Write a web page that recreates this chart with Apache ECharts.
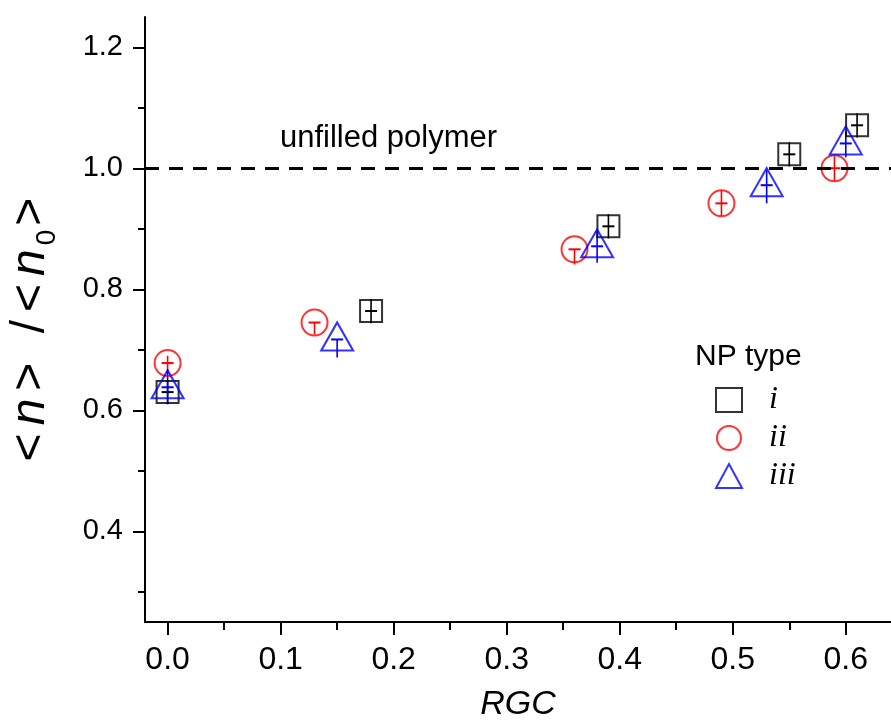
<!DOCTYPE html>
<html>
<head>
<meta charset="utf-8">
<script src="https://cdn.jsdelivr.net/npm/echarts@6/dist/echarts.min.js"></script>
<style>
  html, body { margin: 0; padding: 0; background: #fff; }
  #chart { width: 891px; height: 720px; }
</style>
</head>
<body>
<div id="chart"></div>
<script>
// NP type i (squares)
const rgcI = [0.00, 0.18, 0.39, 0.55, 0.61]
const nI = [0.630, 0.764, 0.904, 1.023, 1.071]
const upI = [0.02, 0.02, 0.02, 0.02, 0.02]
const downI = [0.02, 0.02, 0.02, 0.02, 0.02]

// NP type ii (circles)
const rgcII = [0.00, 0.13, 0.36, 0.49, 0.59]
const nII = [0.678, 0.745, 0.866, 0.942, 1.000]
const upII = [0.012, 0.0, 0.0, 0.022, 0.02]
const downII = [0.018, 0.02, 0.025, 0.021, 0.021]

// NP type iii (triangles)
const rgcIII = [0.00, 0.15, 0.38, 0.53, 0.60]
const nIII = [0.638, 0.717, 0.871, 0.972, 1.041]
const upIII = [0.028, 0.0, 0.025, 0.025, 0.02]
const downIII = [0.028, 0.03, 0.027, 0.03, 0.023]

const refLevel = 1.0

const xTicks = [0.0, 0.1, 0.2, 0.3, 0.4, 0.5, 0.6]
const xMinorTicks = [0.05, 0.15, 0.25, 0.35, 0.45, 0.55]
const yTicks = [0.4, 0.6, 0.8, 1.0, 1.2]
const yMinorTicks = [0.3, 0.5, 0.7, 0.9, 1.1]

const chart = echarts.init(document.getElementById('chart'), null, { renderer: 'canvas' })

const toPoints = (xs, ys) => xs.map((x, i) => [x, ys[i]])
const toBars = (xs, ys, up, down) => xs.map((x, i) => [x, ys[i], up[i], down[i]])

const errorBars = (name, color, bars) => ({
  name: name + '-err',
  type: 'custom',
  z: 3,
  silent: true,
  data: bars,
  renderItem: (params, api) => {
    const x = api.value(0)
    const y = api.value(1)
    const top = api.coord([x, y + api.value(2)])
    const bottom = api.coord([x, y - api.value(3)])
    const mid = api.coord([x, y])
    const style = { stroke: color, lineWidth: 1.6 }
    return {
      type: 'group',
      children: [
        { type: 'line', shape: { x1: top[0], y1: top[1], x2: bottom[0], y2: bottom[1] }, style },
        { type: 'line', shape: { x1: mid[0] - 6, y1: mid[1], x2: mid[0] + 6, y2: mid[1] }, style: { stroke: color, lineWidth: 2 } }
      ]
    }
  }
})

const axisLine = { show: true, onZero: false, lineStyle: { color: '#000', width: 2 } }
const tickStyle = { color: '#000', width: 2 }

// spread the y title a little, like the original
const sp = [0, 4, 0, 4]

const option = {
  animation: false,
  backgroundColor: '#fff',
  grid: { left: 145, right: 0, top: 17, bottom: 98, containLabel: false, outerBoundsMode: 'none' },
  title: {
    text: 'NP type',
    left: 690,
    top: 337,
    textStyle: { fontFamily: 'Liberation Sans', fontWeight: 'normal', fontSize: 30, color: '#000' }
  },
  legend: {
    orient: 'vertical',
    left: 710,
    top: 379,
    itemGap: 6,
    itemWidth: 26,
    itemHeight: 24,
    data: [
      { name: 'i', icon: 'rect', itemStyle: { color: 'transparent', borderColor: '#000', borderWidth: 2 } },
      { name: 'ii', icon: 'circle', itemStyle: { color: 'transparent', borderColor: '#ff0000', borderWidth: 2 } },
      { name: 'iii', icon: 'triangle', itemStyle: { color: 'transparent', borderColor: '#0000ff', borderWidth: 2 } }
    ],
    textStyle: {
      fontFamily: 'Liberation Serif',
      fontStyle: 'italic',
      fontSize: 32,
      color: '#000',
      padding: [0, 0, 0, 22]
    }
  },
  xAxis: [
    {
      type: 'value',
      min: -0.02,
      max: 0.64,
      name: 'RGC',
      nameLocation: 'middle',
      nameGap: 66,
      nameTextStyle: { fontFamily: 'Liberation Sans', fontStyle: 'italic', fontSize: 34, color: '#000' },
      axisLine,
      splitLine: { show: false },
      axisTick: { show: true, inside: false, length: 13, customValues: xTicks, lineStyle: tickStyle },
      axisLabel: {
        customValues: xTicks,
        margin: 22,
        fontFamily: 'Liberation Sans',
        fontSize: 32,
        color: '#000',
        formatter: v => v.toFixed(1)
      }
    },
    {
      type: 'value',
      min: -0.02,
      max: 0.64,
      position: 'bottom',
      axisLine: { show: false, onZero: false },
      splitLine: { show: false },
      axisLabel: { show: false },
      axisTick: { show: true, inside: false, length: 8, customValues: xMinorTicks, lineStyle: tickStyle }
    }
  ],
  yAxis: [
    {
      type: 'value',
      min: 0.25,
      max: 1.25,
      name: '{a|<}{i|n}{a|>}{a| }{a|/}{a|<}{i|n}{s|0}{e|>}',
      nameLocation: 'middle',
      nameRotate: 90,
      nameGap: 84,
      nameTextStyle: {
        rich: {
          a: { fontFamily: 'Liberation Sans', fontSize: 48, color: '#000', padding: sp },
          e: { fontFamily: 'Liberation Sans', fontSize: 48, color: '#000', padding: [0, 24, 0, 4] },
          i: { fontFamily: 'Liberation Sans', fontStyle: 'italic', fontSize: 48, color: '#000', padding: sp },
          s: { fontFamily: 'Liberation Sans', fontSize: 28, color: '#000', padding: [32, 0, 0, 0] }
        }
      },
      axisLine,
      splitLine: { show: false },
      axisTick: { show: true, inside: false, length: 12, customValues: yTicks, lineStyle: tickStyle },
      axisLabel: {
        customValues: yTicks,
        margin: 22,
        fontFamily: 'Liberation Sans',
        fontSize: 29,
        color: '#000',
        formatter: v => v.toFixed(1)
      }
    },
    {
      type: 'value',
      min: 0.25,
      max: 1.25,
      position: 'left',
      axisLine: { show: false, onZero: false },
      splitLine: { show: false },
      axisLabel: { show: false },
      axisTick: { show: true, inside: false, length: 7, customValues: yMinorTicks, lineStyle: tickStyle }
    }
  ],
  series: [
    {
      name: 'i',
      type: 'scatter',
      symbol: 'rect',
      symbolSize: 22,
      z: 4,
      itemStyle: { color: 'transparent', borderColor: '#000', borderWidth: 2 },
      data: toPoints(rgcI, nI),
      markLine: {
        silent: true,
        symbol: 'none',
        lineStyle: { color: '#000', width: 3, type: [14, 10] },
        label: {
          show: true,
          position: 'insideStartTop',
          distance: [135, 14],
          formatter: 'unfilled polymer',
          fontFamily: 'Liberation Sans',
          fontSize: 31,
          color: '#000'
        },
        data: [{ yAxis: refLevel }]
      }
    },
    {
      name: 'ii',
      type: 'scatter',
      symbol: 'circle',
      symbolSize: 26,
      z: 4,
      itemStyle: { color: 'transparent', borderColor: '#ff0000', borderWidth: 2 },
      data: toPoints(rgcII, nII)
    },
    {
      name: 'iii',
      type: 'scatter',
      symbol: 'triangle',
      symbolSize: [32, 28],
      symbolOffset: [0, -3],
      z: 4,
      itemStyle: { color: 'transparent', borderColor: '#0000ff', borderWidth: 2 },
      data: toPoints(rgcIII, nIII)
    },
    errorBars('i', '#000', toBars(rgcI, nI, upI, downI)),
    errorBars('ii', '#ff0000', toBars(rgcII, nII, upII, downII)),
    errorBars('iii', '#0000ff', toBars(rgcIII, nIII, upIII, downIII))
  ]
}

chart.setOption(option)
</script>
</body>
</html>
